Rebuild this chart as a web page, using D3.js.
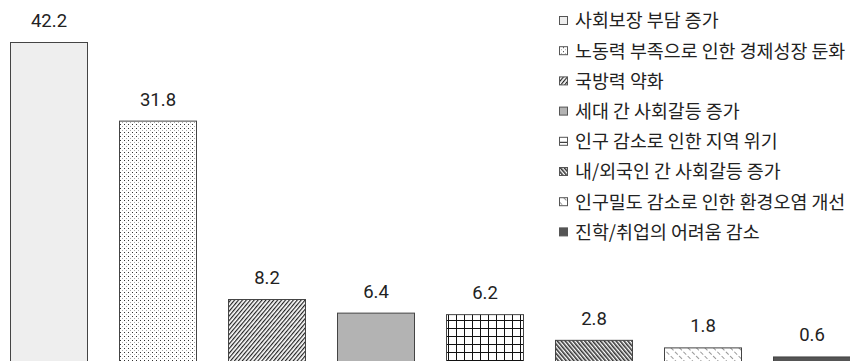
<!DOCTYPE html>
<html><head><meta charset="utf-8">
<script src="https://cdn.jsdelivr.net/npm/d3@7"></script>
<style>body{margin:0;background:#fff}svg{display:block}</style>
</head><body>
<svg id="c" width="850" height="361"></svg>
<script>
const categories = ["사회보장 부담 증가","노동력 부족으로 인한 경제성장 둔화","국방력 약화","세대 간 사회갈등 증가","인구 감소로 인한 지역 위기","내/외국인 간 사회갈등 증가","인구밀도 감소로 인한 환경오염 개선","진학/취업의 어려움 감소"];
const values = [42.2,31.8,8.2,6.4,6.2,2.8,1.8,0.6];
const patternIds = ["p0","p1","p2","p3","p4","p5","p6","p7"];

const svg = d3.select("#c");
const defs = svg.append("defs");
function pat(id, w, h, rot){
  const p = defs.append("pattern").attr("id", id).attr("patternUnits","userSpaceOnUse").attr("width", w).attr("height", h);
  if (rot) p.attr("patternTransform", `rotate(${rot})`);
  return p;
}
pat("p0",4,4).append("rect").attr("width",4).attr("height",4).attr("fill","#eeeeee");
{const p = pat("p1",4,4); p.append("rect").attr("width",4).attr("height",4).attr("fill","#fff");
 p.append("rect").attr("x",0).attr("y",0).attr("width",1).attr("height",1).attr("fill","#333");
 p.append("rect").attr("x",2).attr("y",2).attr("width",1).attr("height",1).attr("fill","#aaa");}
{const p = pat("p2",3,3,40); p.append("rect").attr("width",3).attr("height",3).attr("fill","#fff");
 p.append("rect").attr("x",0).attr("y",0).attr("width",1.2).attr("height",3).attr("fill","#222");}
pat("p3",4,4).append("rect").attr("width",4).attr("height",4).attr("fill","#b3b3b3");
{const p = pat("p4",8,8); p.append("rect").attr("width",8).attr("height",8).attr("fill","#fff");
 p.append("rect").attr("x",0).attr("y",0).attr("width",8).attr("height",1).attr("fill","#111");
 p.append("rect").attr("x",0).attr("y",0).attr("width",1).attr("height",8).attr("fill","#111");}
{const p = pat("p5",3,3,-40); p.append("rect").attr("width",3).attr("height",3).attr("fill","#fff");
 p.append("rect").attr("x",0).attr("y",0).attr("width",1.6).attr("height",3).attr("fill","#333");}
{const p = pat("p6",6,6,-45); p.append("rect").attr("width",6).attr("height",6).attr("fill","#fff");
 p.append("rect").attr("x",0).attr("y",0).attr("width",1).attr("height",4).attr("fill","#999");}
pat("p7",4,4).append("rect").attr("width",4).attr("height",4).attr("fill","#555555");

const x = d3.scaleBand().domain(categories).range([10, 851]).paddingInner(31/109).paddingOuter(0);
const y = d3.scaleLinear().domain([0, 42.2]).range([361, 42]);

svg.append("g").selectAll("rect").data(values).join("rect")
  .attr("x",(d,i)=>x(categories[i])+0.5)
  .attr("y",d=>y(d)+0.5)
  .attr("width",x.bandwidth()-1)
  .attr("height",d=>y(0)-y(d)+5)
  .attr("fill",(d,i)=>`url(#${patternIds[i]})`)
  .attr("stroke","#444").attr("stroke-width",1);

svg.append("g").selectAll("text").data(values).join("text")
  .attr("x",(d,i)=>x(categories[i])+x.bandwidth()/2)
  .attr("y",d=>y(d)-15)
  .attr("text-anchor","middle")
  .attr("font-family","Roboto, 'Noto Sans', sans-serif")
  .attr("font-size",18.5).attr("fill","#222")
  .text(d=>d.toFixed(1));

const lg = svg.append("g").attr("transform","translate(559,0)");
const rows = lg.selectAll("g").data(categories).join("g")
  .attr("transform",(d,i)=>`translate(0,${21 + i*30.2})`);
rows.append("rect").attr("x",0.5).attr("y",-4.5).attr("width",8).attr("height",8)
  .attr("fill",(d,i)=>`url(#${patternIds[i]})`).attr("stroke","#555").attr("stroke-width",1);
rows.append("text").attr("x",16).attr("y",0).attr("dy","0.35em")
  .attr("font-family","'Noto Sans CJK KR', sans-serif").attr("font-size",18.4).attr("fill","#222")
  .text(d=>d);
</script>
</body></html>
